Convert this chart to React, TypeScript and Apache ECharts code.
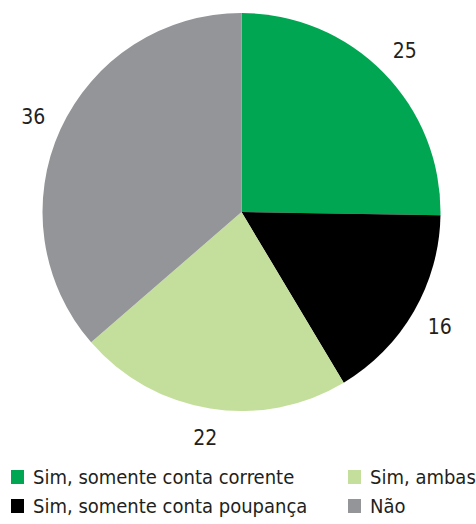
import React, { useEffect, useRef } from "react";
import * as echarts from "echarts";

const categories = [
  "Sim, somente conta corrente",
  "Sim, somente conta poupança",
  "Sim, ambas",
  "Não",
];
const values = [25, 16, 22, 36];
const colors = ["#00a651", "#000000", "#c4df9b", "#939598"];
const legendLeft = ["Sim, somente conta corrente", "Sim, somente conta poupança"];
const legendRight = ["Sim, ambas", "Não"];

const FONT = "'Liberation Sans Narrow', 'DejaVu Sans Condensed', 'Roboto', sans-serif";
const TEXT = "#231f20";

export default function App() {
  const ref = useRef<HTMLDivElement>(null);
  useEffect(() => {
    document.body.style.margin = "0";
    const chart = echarts.init(ref.current!, undefined, { renderer: "svg" });
    const data = categories.map((name, i) => ({
      name,
      value: values[i],
      itemStyle: { color: colors[i] },
    }));
    const legendCommon = {
      orient: "vertical" as const,
      icon: "rect",
      itemWidth: 13,
      itemHeight: 14,
      itemGap: 9,
      padding: 0,
      selectedMode: false,
      textStyle: { fontFamily: FONT, fontSize: 20, color: TEXT, padding: [0, 0, 0, 4] },
    };
    chart.setOption({
      animation: false,
      backgroundColor: "#ffffff",
      legend: [
        { ...legendCommon, data: legendLeft, left: 11, top: 467 },
        { ...legendCommon, data: legendRight, left: 348, top: 467 },
      ],
      series: [
        {
          type: "pie",
          center: [241.5, 212],
          radius: [0, 199],
          startAngle: 90,
          clockwise: true,
          label: { show: false },
          labelLine: { show: false },
          silent: true,
          data,
        },
        {
          type: "pie",
          center: [241.5, 212],
          radius: [212, 240],
          startAngle: 90,
          clockwise: true,
          silent: true,
          itemStyle: { color: "rgba(0,0,0,0)" },
          label: {
            show: true,
            position: "inside",
            formatter: "{c}",
            fontFamily: FONT,
            fontSize: 21,
            color: TEXT,
          },
          labelLine: { show: false },
          data: categories.map((name, i) => ({ name, value: values[i] })),
        },
      ],
    });
    return () => chart.dispose();
  }, []);
  return (
    <div
      ref={ref}
      style={{ position: "absolute", left: 0, top: 0, width: 476, height: 524 }}
    />
  );
}
